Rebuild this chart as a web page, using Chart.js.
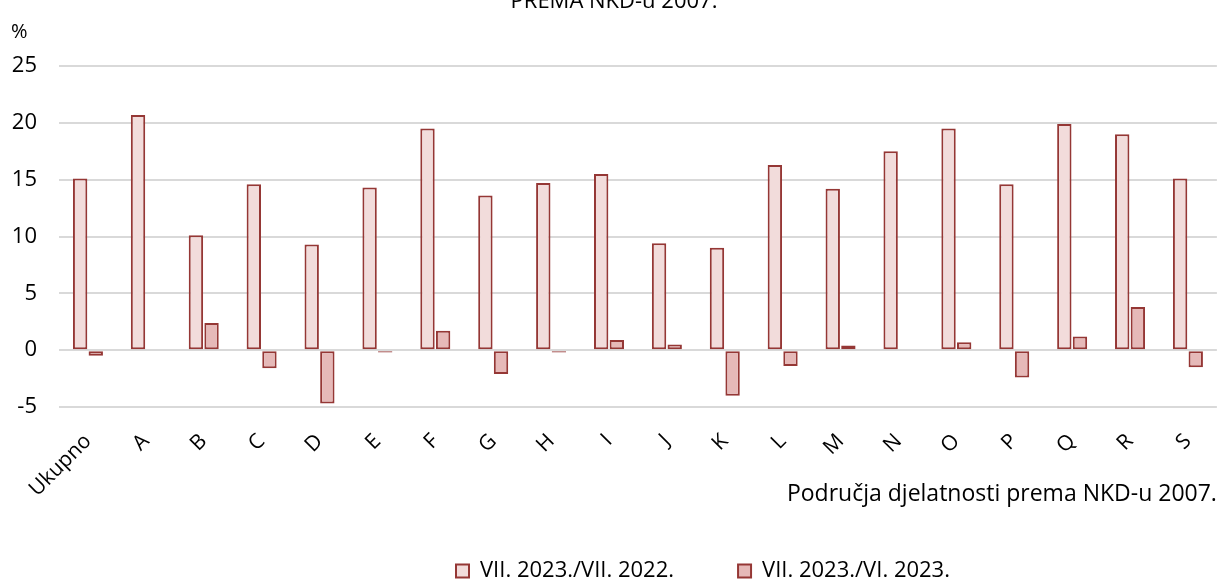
<!DOCTYPE html>
<html>
<head>
<meta charset="utf-8">
<script src="https://cdn.jsdelivr.net/npm/chart.js@4.4.0/dist/chart.umd.min.js"></script>
<style>
  html, body { margin: 0; padding: 0; background: #fff; }
  #wrap { width: 1228px; height: 583px; }
</style>
</head>
<body>
<div id="wrap"><canvas id="c" width="1228" height="583"></canvas></div>
<script>
// data
const categories = ['Ukupno', 'A', 'B', 'C', 'D', 'E', 'F', 'G', 'H', 'I', 'J', 'K', 'L', 'M', 'N', 'O', 'P', 'Q', 'R', 'S'];
const yearOnYear = [15.1, 20.7, 10.1, 14.6, 9.3, 14.3, 19.5, 13.6, 14.7, 15.5, 9.4, 9.0, 16.3, 14.2, 17.5, 19.5, 14.6, 19.9, 19.0, 15.1];
const monthOnMonth = [-0.5, -0.1, 2.4, -1.6, -4.7, -0.2, 1.7, -2.1, -0.2, 0.9, 0.5, -4.0, -1.4, 0.4, 0, 0.7, -2.4, 1.2, 3.8, -1.5];
const seriesNames = ['VII. 2023./VII. 2022.', 'VII. 2023./VI. 2023.'];
const yTicks = [-5, 0, 5, 10, 15, 20, 25];

const FONT = '"Open Sans", Lato, sans-serif';
const DARK_RED = '#953735';

// cut-off title and the % unit label
const extraText = {
    id: 'extraText',
    afterDraw(chart) {
        const ctx = chart.ctx;
        ctx.save();
        ctx.fillStyle = '#000';
        ctx.font = '22px ' + FONT;
        ctx.textAlign = 'center';
        ctx.textBaseline = 'alphabetic';
        ctx.fillText('PREMA NKD-u 2007.', 614, 8);
        ctx.font = '20px ' + FONT;
        ctx.textAlign = 'left';
        ctx.fillText('%', 11, 38);
        ctx.restore();
    }
};

// legend: wide gap between items, placed low and a bit right of centre
const legendBox = {
    id: 'legendBox',
    beforeInit(chart) {
        const fit = chart.legend.fit;
        chart.legend.fit = function () {
            fit.call(this);
            this.height = 75;
        };
    },
    afterLayout(chart) {
        const lg = chart.legend;
        lg.left = 392;
        lg.top = 496;
        lg.bottom = 583;
    }
};

new Chart(document.getElementById('c'), {
    type: 'bar',
    data: {
        labels: categories,
        datasets: [{
            label: seriesNames[0],
            data: yearOnYear,
            backgroundColor: '#f2dcdb',
            borderColor: DARK_RED,
            borderWidth: 2,
            borderSkipped: false,
            categoryPercentage: 0.54,
            barPercentage: 0.92
        }, {
            label: seriesNames[1],
            data: monthOnMonth,
            backgroundColor: '#e6b9b8',
            borderColor: DARK_RED,
            borderWidth: 2,
            borderSkipped: false,
            categoryPercentage: 0.54,
            barPercentage: 0.92
        }]
    },
    options: {
        responsive: false,
        animation: false,
        layout: { padding: { top: 66, right: 10, left: 0, bottom: 0 } },
        plugins: {
            legend: {
                position: 'bottom',
                align: 'start',
                labels: {
                    color: '#000',
                    font: { family: FONT, size: 22 },
                    boxWidth: 13,
                    boxHeight: 13,
                    padding: 64
                }
            },
            tooltip: { enabled: false }
        },
        scales: {
            x: {
                afterFit(axis) { axis.height = 101; },
                grid: { display: false, drawTicks: false },
                border: { display: false },
                ticks: {
                    color: '#000',
                    font: { family: FONT, size: 21 },
                    minRotation: 45,
                    maxRotation: 45,
                    autoSkip: false,
                    padding: 22
                },
                title: {
                    display: true,
                    text: 'Područja djelatnosti prema NKD-u 2007.',
                    align: 'end',
                    color: '#000',
                    font: { family: FONT, size: 23 },
                    padding: 0
                }
            },
            y: {
                min: -5,
                max: 25,
                afterFit(axis) { axis.width = 59; },
                afterBuildTicks(axis) {
                    axis.ticks = yTicks.map(v => ({ value: v }));
                },
                grid: { color: '#d9d9d9', lineWidth: 2, drawTicks: false },
                border: { display: false },
                ticks: {
                    color: '#000',
                    font: { family: FONT, size: 22 },
                    padding: 22
                }
            }
        }
    },
    plugins: [extraText, legendBox]
});
</script>
</body>
</html>
